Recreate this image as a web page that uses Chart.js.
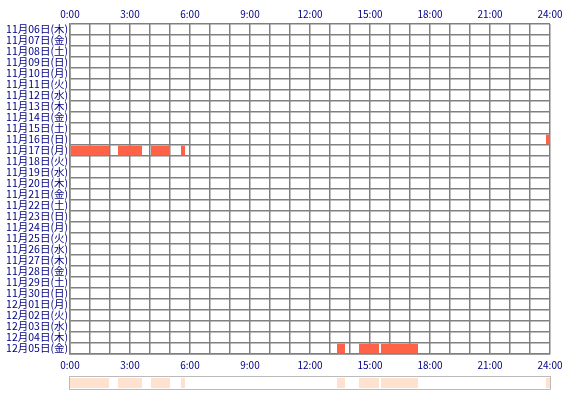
<!DOCTYPE html>
<html><head><meta charset="utf-8">
<script src="https://cdn.jsdelivr.net/npm/chart.js@4"></script>
<style>body{margin:0;background:#fff;width:570px;height:400px;overflow:hidden;position:relative}
#c1{position:absolute;left:0;top:0}
#sw{position:absolute;left:69px;top:376px;width:480px;height:12px;border:1px solid #bbb;background:#fff}
</style></head><body>
<canvas id="c1" width="570" height="375" style="width:570px;height:375px"></canvas>
<div id="sw"><canvas id="c2" width="480" height="12" style="width:480px;height:12px"></canvas></div>
<script>
const categories=["11月06日(木)","11月07日(金)","11月08日(土)","11月09日(日)","11月10日(月)","11月11日(火)","11月12日(水)","11月13日(木)","11月14日(金)","11月15日(土)","11月16日(日)","11月17日(月)","11月18日(火)","11月19日(水)","11月20日(木)","11月21日(金)","11月22日(土)","11月23日(日)","11月24日(月)","11月25日(火)","11月26日(水)","11月27日(木)","11月28日(金)","11月29日(土)","11月30日(日)","12月01日(月)","12月02日(火)","12月03日(水)","12月04日(木)","12月05日(金)"];
const tickLabels=["0:00","3:00","6:00","9:00","12:00","15:00","18:00","21:00","24:00"];
// [row index, start hour, end hour]
const segRow=[10,11,11,11,11,29,29,29];
const segStart=[23.8,0.0,2.4,4.05,5.55,13.35,14.45,15.55];
const segEnd=[24.0,1.95,3.6,5.0,5.75,13.75,15.45,17.4];
const ds=[];
const counts={};
for(let i=0;i<segRow.length;i++){
  const r=segRow[i];const k=counts[r]=(counts[r]||0);counts[r]++;
  if(!ds[k])ds[k]={data:categories.map(()=>null),backgroundColor:'#ff6347',barPercentage:1,categoryPercentage:0.88,grouped:false};
  ds[k].data[r]=[segStart[i],segEnd[i]];
}
const navy='#000080';const font={family:'"Noto Sans CJK JP", "DejaVu Sans"',size:10};
const yfont={family:'"Noto Sans CJK JP", "DejaVu Sans"',size:10.5};
const gridC='#808080';
const xTick={color:navy,font,maxRotation:0,autoSkip:false,stepSize:1,callback:v=>v%3===0?tickLabels[v/3]:''};
new Chart(document.getElementById('c1'),{type:'bar',data:{labels:categories,datasets:ds},
options:{indexAxis:'y',responsive:false,animation:false,plugins:{legend:{display:false},tooltip:{enabled:false}},
layout:{padding:{right:20,left:0,top:0,bottom:0}},
scales:{
 x:{position:'bottom',min:0,max:24,grid:{color:gridC,lineWidth:1.5,drawTicks:false},border:{color:gridC,width:1.5},ticks:{...xTick,padding:5},afterFit:s=>{s.height=21}},
 x2:{position:'top',min:0,max:24,grid:{display:false,drawTicks:false},border:{display:false},ticks:{...xTick,padding:4},afterFit:s=>{s.height=24}},
 y:{grid:{color:gridC,lineWidth:1.5,offset:true,drawTicks:false},border:{color:gridC,width:1.5},ticks:{color:navy,font:yfont,padding:2,autoSkip:false},afterFit:s=>{s.width=70}}
}}});
new Chart(document.getElementById('c2'),{type:'bar',data:{labels:['all'],datasets:segStart.map((s,i)=>({data:[[s,segEnd[i]]],backgroundColor:'#ffe1cf',barPercentage:1,categoryPercentage:0.85,grouped:false}))},
options:{indexAxis:'y',responsive:false,animation:false,plugins:{legend:{display:false},tooltip:{enabled:false}},layout:{padding:0},
scales:{x:{display:false,min:0,max:24},y:{display:false}}}});
</script></body></html>
